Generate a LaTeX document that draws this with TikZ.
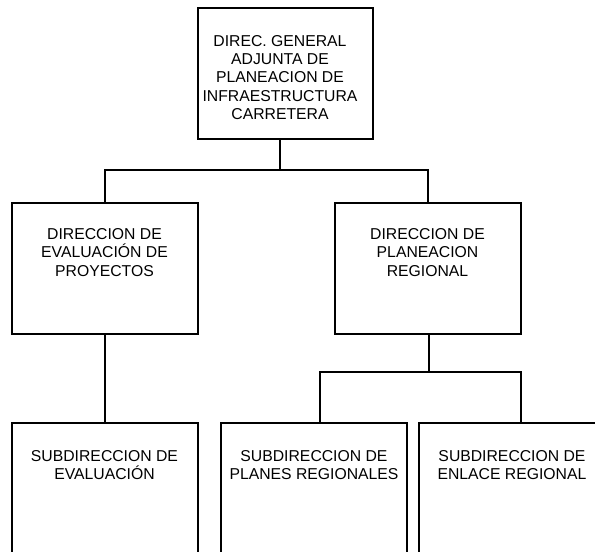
\documentclass[tikz,border=0pt]{standalone}
\usepackage{fontspec}
\setmainfont{Liberation Sans}
\begin{document}
\begin{tikzpicture}[x=1pt,y=-1pt,
  box/.style={draw=black,line width=1.2pt,fill=none,inner sep=0pt,minimum width=186pt,minimum height=131pt},
  lbl/.style={anchor=north,align=center,inner sep=0pt,font=\fontsize{15.75}{18.4}\selectfont},
  conn/.style={draw=black,line width=1.2pt}]
\useasboundingbox (0,0) rectangle (595,552);
\clip (0,0) rectangle (595,552);
% boxes
\node[box,minimum width=175pt] (top) at (285.5,73.5) {};
\node[box] (dirA) at (105,268.5) {};
\node[box] (dirB) at (428,268.5) {};
\node[box,minimum height=150pt] (subA) at (105,498) {};
\node[box,minimum height=150pt] (subB) at (314,498) {};
\node[box,minimum height=150pt] (subC) at (512,498) {};
% labels
\node[lbl] (tTop) at (280,35) {DIREC. GENERAL\\ADJUNTA DE\\PLANEACION DE\\INFRAESTRUCTURA\\CARRETERA};
\node[lbl] (tDirA) at (104.5,228) {DIRECCION DE\\EVALUACIÓN DE\\PROYECTOS};
\node[lbl] (tDirB) at (427.5,228) {DIRECCION DE\\PLANEACION\\REGIONAL};
\node[lbl] (tSubA) at (104.5,450) {SUBDIRECCION DE\\EVALUACIÓN};
\node[lbl] (tSubB) at (314,450) {SUBDIRECCION DE\\PLANES REGIONALES};
\node[lbl] (tSubC) at (512,450) {SUBDIRECCION DE\\ENLACE REGIONAL};
% junctions
\coordinate (j1) at (280,170);
\coordinate (j2) at (429,372);
\coordinate (bL) at (320,372);
\coordinate (bR) at (521,372);
% connectors
\draw[conn] (top.south -| j1) -- (j1);
\draw[conn] (dirA.north) |- (j1) -| (dirB.north);
\draw[conn] (dirA.south) -- (subA.north);
\draw[conn] (dirB.south -| j2) -- (j2);
\draw[conn] (bL |- subB.north) -- (bL) -- (bR) -- (bR |- subC.north);
\end{tikzpicture}
\end{document}
